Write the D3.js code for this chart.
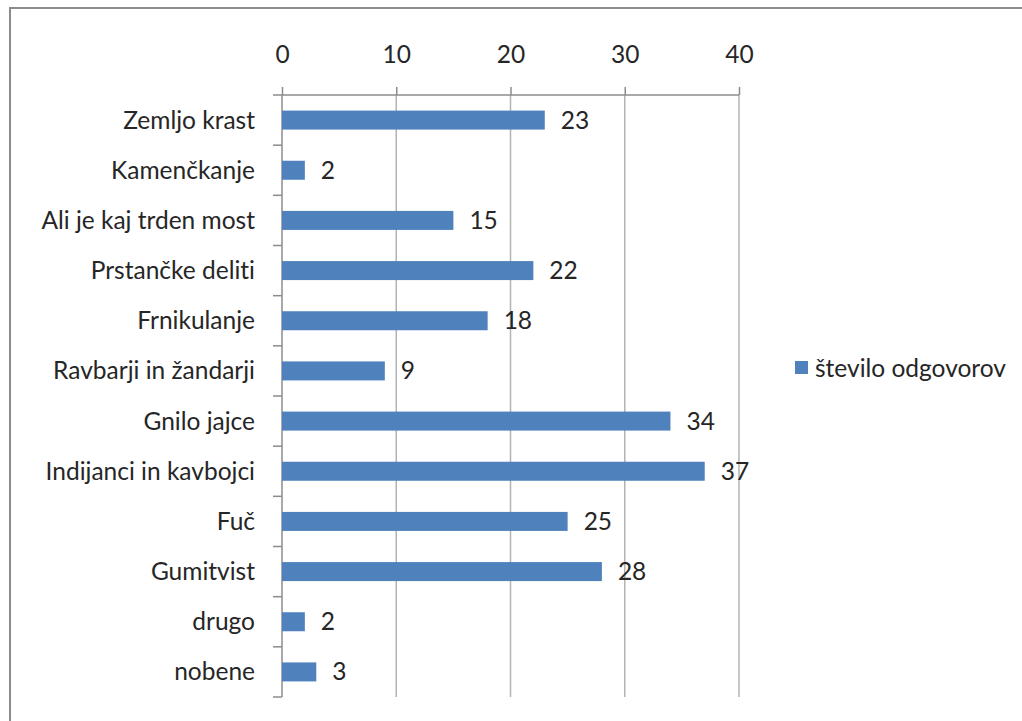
<!DOCTYPE html>
<html><head><meta charset="utf-8">
<script src="https://cdn.jsdelivr.net/npm/d3@7"></script>
<style>
body{margin:0;background:#fff;}
text{font-family:Lato,"Open Sans",sans-serif;fill:#262626;font-variant-ligatures:none;font-feature-settings:"liga" 0,"clig" 0;}
</style></head>
<body>
<svg id="c" width="1022" height="721"></svg>
<script>
const categories = ["Zemljo krast","Kamenčkanje","Ali je kaj trden most","Prstančke deliti","Frnikulanje","Ravbarji in žandarji","Gnilo jajce","Indijanci in kavbojci","Fuč","Gumitvist","drugo","nobene"];
const values = [23,2,15,22,18,9,34,37,25,28,2,3];
const tickValues = [0,10,20,30,40];
const seriesName = "število odgovorov";

(function(){
const FS = 24.5;
const svg = d3.select("#c");
svg.append("path").attr("d","M10,721 V8 H1022").attr("fill","none").attr("stroke","#8c8c8c").attr("stroke-width",2);

const pL = 282, pR = 739, pT = 95, pB = 697;
const x = d3.scaleLinear().domain([0,40]).range([pL,pR]);
const yb = d3.scaleBand().domain(categories).range([pT,pB]);

svg.append("g").selectAll("line").data(tickValues.slice(1)).join("line")
  .attr("x1",d=>x(d)).attr("x2",d=>x(d)).attr("y1",pT).attr("y2",pB)
  .attr("stroke","#b3b3b3").attr("stroke-width",1.5);

const xa = svg.append("g").attr("transform",`translate(0,${pT})`)
  .call(d3.axisTop(x).tickValues(tickValues).tickSize(8).tickPadding(24));
xa.select(".domain").remove();
xa.selectAll(".tick line").attr("stroke","#8c8c8c").attr("stroke-width",1.5);
xa.selectAll(".tick text").attr("font-size",FS).attr("fill","#262626").style("font-family","Lato,'Open Sans',sans-serif");
svg.append("line").attr("x1",273).attr("x2",pR).attr("y1",pT).attr("y2",pT).attr("stroke","#8c8c8c").attr("stroke-width",1.5);

svg.append("line").attr("x1",pL).attr("x2",pL).attr("y1",pT).attr("y2",pB).attr("stroke","#8c8c8c").attr("stroke-width",1.5);
svg.append("g").selectAll("line").data(categories).join("line")
  .attr("x1",273).attr("x2",pL).attr("y1",d=>yb(d)+yb.bandwidth()).attr("y2",d=>yb(d)+yb.bandwidth())
  .attr("stroke","#8c8c8c").attr("stroke-width",1.5);
svg.append("g").selectAll("text").data(categories).join("text")
  .attr("x",255).attr("y",d=>yb(d)+yb.bandwidth()/2).attr("dy","0.35em")
  .attr("text-anchor","end").attr("font-size",FS).text(d=>d);

const data = categories.map((c,i)=>({c,v:values[i]}));
svg.append("g").selectAll("rect").data(data).join("rect")
  .attr("x",x(0)).attr("y",d=>yb(d.c)+yb.bandwidth()/2-9.5)
  .attr("width",d=>x(d.v)-x(0)).attr("height",19)
  .attr("fill","#4f81bd");
svg.append("g").selectAll("text").data(data).join("text")
  .attr("x",d=>x(d.v)+16).attr("y",d=>yb(d.c)+yb.bandwidth()/2).attr("dy","0.35em")
  .attr("font-size",FS).text(d=>d.v);

svg.append("rect").attr("x",795).attr("y",361).attr("width",13).attr("height",13).attr("fill","#4f81bd");
svg.append("text").attr("x",815).attr("y",368).attr("dy","0.35em").attr("font-size",FS).text(seriesName);
})();
</script>
</body></html>
